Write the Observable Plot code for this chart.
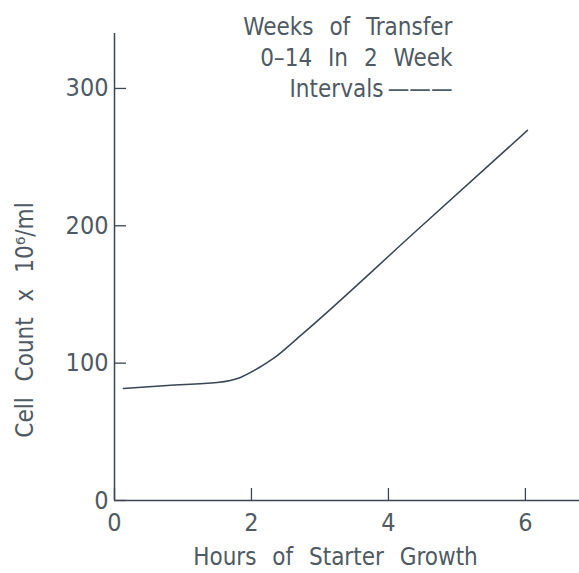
<!DOCTYPE html>
<html><head><meta charset="utf-8">
<script src="https://cdn.jsdelivr.net/npm/d3@7"></script>
<script src="https://cdn.jsdelivr.net/npm/@observablehq/plot@0.6"></script>
<style>
body{margin:0;background:#fff;}
</style>
</head><body><div id="chart"></div>
<script>
const hours = [0.13, 0.77, 1.50, 1.84, 2.09, 2.32, 2.72, 4.40, 6.03];
const cellCount = [81.6, 83.8, 85.9, 89.6, 96.1, 103.4, 120.2, 196, 269.5];
const xTicks = [0, 2, 4, 6];
const yTicks = [0, 100, 200, 300];
const titleLines = ["Weeks of Transfer", "0–14 In 2 Week", "Intervals\u2009———"];
const xLabel = "Hours of Starter Growth";
const yLabel = "Cell Count x 10⁶/ml";

const data = hours.map((h, i) => ({hours: h, count: cellCount[i]}));
const ink = "#3a4653";
const textInk = "#4f5a64";

const chart = Plot.plot({
  width: 579, height: 573,
  marginLeft: 114, marginRight: 0, marginTop: 33, marginBottom: 73,
  x: {domain: [0, 6.79]},
  y: {domain: [0, 340]},
  style: {fontFamily: "'DejaVu Sans Condensed', 'DejaVu Sans', sans-serif", fontSize: "25px", color: textInk, background: "#fff", wordSpacing: "9px"},
  marks: [
    Plot.axisX({ticks: xTicks, tickSize: 0, tickPadding: 13, tickFormat: d => String(d), label: null, fill: textInk, fontSize: 25}),
    Plot.axisY({ticks: yTicks, tickSize: 0, tickPadding: 6, tickFormat: d => String(d), label: null, fill: textInk, fontSize: 25}),
    Plot.tickX(xTicks, {x: d => d, insetTop: 455, stroke: ink, strokeWidth: 1.3}),
    Plot.tickY(yTicks, {y: d => d, insetRight: 453, stroke: ink, strokeWidth: 1.3}),
    Plot.ruleX([0], {stroke: ink, strokeWidth: 1.5}),
    Plot.ruleY([0], {stroke: ink, strokeWidth: 1.5}),
    Plot.line(data, {x: "hours", y: "count", curve: "monotone-x", stroke: ink, strokeWidth: 1.5}),
    Plot.text([titleLines.join("\n")], {text: d => d, frameAnchor: "top-right", textAnchor: "end", lineAnchor: "top", lineHeight: 1.28, dx: -127, dy: -20, fill: textInk, fontSize: 24}),
    Plot.text([xLabel], {text: d => d, frameAnchor: "bottom", textAnchor: "middle", lineAnchor: "middle", dx: -11.5, dy: 57, fill: textInk, fontSize: 24}),
    Plot.text([yLabel], {text: d => d, frameAnchor: "left", textAnchor: "middle", lineAnchor: "middle", rotate: -90, dx: -89, dy: 53, fill: textInk, fontSize: 24})
  ]
});
document.getElementById("chart").appendChild(chart);
</script>
</body></html>
